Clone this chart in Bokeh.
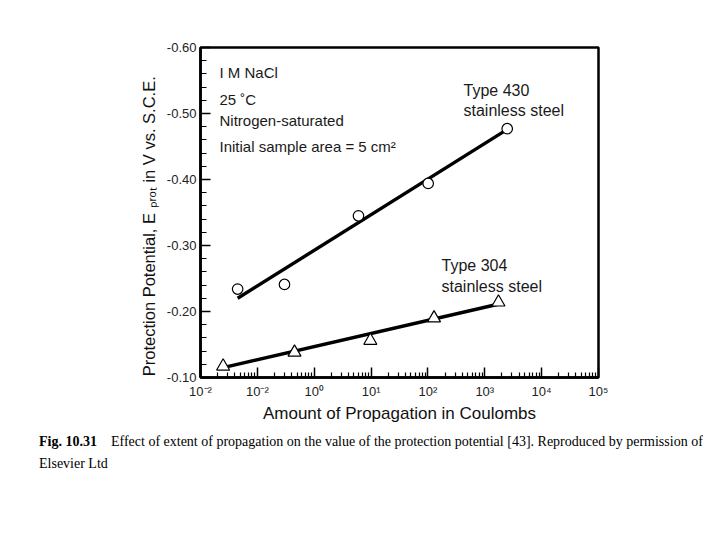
from bokeh.plotting import figure
from bokeh.models import Range1d, FixedTicker, Label, PrintfTickFormatter, Div
from bokeh.layouts import column
from bokeh.embed import file_html
from bokeh.resources import INLINE

# ---- data ----
type430_x = [0.045, 0.30, 6.0, 101, 2480]
type430_y = [-0.234, -0.241, -0.345, -0.394, -0.477]
fit430_x = [0.045, 2290]
fit430_y = [-0.220, -0.474]

type304_x = [0.025, 0.45, 9.7, 128, 1740]
type304_y = [-0.117, -0.138, -0.156, -0.190, -0.214]
fit304_x = [0.025, 1700]
fit304_y = [-0.115, -0.211]

x_major = [0.01, 0.1, 1, 10, 100, 1000, 10000, 100000]
x_labels = ["10⁻²", "10⁻²", "10⁰", "10¹", "10²", "10³", "10⁴", "10⁵"]
x_minor = [m * d for d in [0.01, 0.1, 1, 10, 100, 1000, 10000] for m in range(2, 10)]
y_major = [-0.60, -0.50, -0.40, -0.30, -0.20, -0.10]
y_minor = [round(-0.60 + 0.02 * i, 2) for i in range(26)]

FONT = "Liberation Sans"
SERIF = "Liberation Serif"

p = figure(width=720, height=425, x_axis_type="log",
           x_range=Range1d(0.01, 1e5), y_range=Range1d(-0.10, -0.60),
           output_backend="svg", toolbar_location=None,
           min_border_left=200, min_border_right=122,
           min_border_top=47, min_border_bottom=45)
p.background_fill_color = "white"
p.border_fill_color = "white"
p.outline_line_color = "black"
p.outline_line_width = 2.5
p.xgrid.visible = False
p.ygrid.visible = False

xa = p.xaxis[0]
xa.ticker = FixedTicker(ticks=x_major, minor_ticks=x_minor)
xa.major_label_overrides = {(int(v) if v >= 1 else v): l for v, l in zip(x_major, x_labels)}
xa.major_tick_in = 10
xa.major_tick_out = 0
xa.minor_tick_in = 5
xa.minor_tick_out = 0
xa.major_tick_line_width = 1.5
xa.minor_tick_line_width = 1.2
xa.axis_line_width = 2.5
xa.major_label_text_font = FONT
xa.major_label_text_font_size = "13px"
xa.major_label_text_color = "#222222"
xa.major_label_standoff = 6
xa.axis_label = "Amount of Propagation in Coulombs"
xa.axis_label_text_font = FONT
xa.axis_label_text_font_size = "17px"
xa.axis_label_text_font_style = "normal"
xa.axis_label_text_color = "#111111"
xa.axis_label_standoff = 2

ya = p.yaxis[0]
ya.ticker = FixedTicker(ticks=y_major, minor_ticks=y_minor)
ya.formatter = PrintfTickFormatter(format="%.2f")
ya.major_tick_in = 10
ya.major_tick_out = 0
ya.minor_tick_in = 6
ya.minor_tick_out = 0
ya.major_tick_line_width = 1.5
ya.minor_tick_line_width = 1.2
ya.axis_line_width = 2.5
ya.major_label_text_font = FONT
ya.major_label_text_font_size = "13px"
ya.major_label_text_color = "#222222"
ya.major_label_standoff = 4
ya.axis_label = "Protection Potential, E ₚᵣₒₜ in V vs. S.C.E." + "\u00a0" * 6
ya.axis_label_text_font = FONT
ya.axis_label_text_font_size = "16.5px"
ya.axis_label_text_font_style = "normal"
ya.axis_label_text_color = "#111111"
ya.axis_label_standoff = 6

# fitted lines
p.line(fit430_x, fit430_y, line_color="black", line_width=3.4)
p.line(fit304_x, fit304_y, line_color="black", line_width=3.4)

# data markers
p.scatter(type430_x, type430_y, marker="circle", size=10.5, fill_color="white",
          line_color="black", line_width=1.2)
p.scatter(type304_x, type304_y, marker="triangle", size=13, fill_color="white",
          line_color="black", line_width=1.2)

def lab(text, x, y, size="15px"):
    p.add_layout(Label(x=x, y=y, x_units="screen", y_units="screen", text=text,
                       text_font=FONT, text_font_size=size,
                       text_align="left", text_baseline="middle",
                       text_color="#1a1a1a"))

# inside annotations (screen coords relative to frame bottom-left)
lab("I M NaCl", 19, 305)
lab("25 ˚C", 19, 278)
lab("Nitrogen-saturated", 19, 257)
lab("Initial sample area = 5 cm²", 19, 231)
lab("Type 430", 263, 287, "16px")
lab("stainless steel", 263, 267, "16px")
lab("Type 304", 241, 112, "16px")
lab("stainless steel", 241, 91, "16px")

caption = Div(
    text=('<div style="height:42px;overflow:hidden;white-space:nowrap;'
          'padding-left:34px;padding-top:1px;box-sizing:border-box">'
          '<b>Fig. 10.31</b><span style="display:inline-block;width:14px"></span>'
          'Effect of extent of propagation on the value of the protection potential [43]. '
          'Reproduced by permission of<br>Elsevier Ltd</div>'),
    width=715, height=43,
    styles={"font-family": SERIF, "font-size": "14px", "line-height": "22px",
            "color": "black"})

layout = column(p, caption, spacing=0)
open("out.html", "w").write(file_html(layout, INLINE))
